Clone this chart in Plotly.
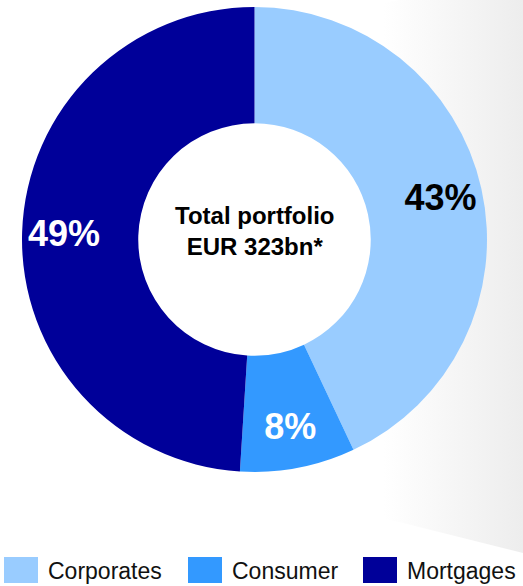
import plotly.graph_objects as go

# ---- data ----
categories = ["Corporates", "Consumer", "Mortgages"]
shares = [43, 8, 49]
colors = ["#99CCFF", "#3399FF", "#000099"]
label_colors = ["#000000", "#ffffff", "#ffffff"]
center_title = "Total portfolio<br>EUR 323bn*"

W, H = 523, 586

def px(x):
    return x / W

def py(y):
    return 1 - y / H

pie_domain = dict(x=[px(22), px(487)], y=[py(472), py(7)])

fig = go.Figure()

# decorative grey gradient panel on the right
fig.add_trace(go.Scatter(
    x=[383, 400, 523, 523, 383, 383],
    y=[3, 0, 0, 553, 518, 3],
    mode="lines", line=dict(width=0), fill="toself",
    fillgradient=dict(type="horizontal",
                      colorscale=[[0, "#ffffff"], [1, "#ededed"]]),
    hoverinfo="skip", showlegend=False,
))

# coloured donut
fig.add_trace(go.Pie(
    labels=categories, values=shares,
    marker=dict(colors=colors, line=dict(width=0)),
    hole=0.5, sort=False, direction="clockwise", rotation=0,
    textinfo="none", domain=pie_domain,
    showlegend=False, hoverinfo="label+percent",
))

# transparent outer ring carrying the labels (puts them on the outer part)
fig.add_trace(go.Pie(
    labels=categories, values=shares,
    marker=dict(colors=["rgba(0,0,0,0)"] * len(shares), line=dict(width=0)),
    hole=0.64, sort=False, direction="clockwise", rotation=0,
    texttemplate="%{value}%", textposition="inside",
    insidetextorientation="horizontal",
    textfont=dict(family="Liberation Sans, Arial", size=36,
                  color=label_colors, weight="bold"),
    domain=pie_domain, showlegend=False, hoverinfo="skip",
))

annotations = [dict(
    text=center_title, x=px(254.5), y=py(231), xref="paper", yref="paper",
    showarrow=False, align="center",
    font=dict(family="Liberation Sans, Arial", size=24, color="#000000",
              weight="bold"),
)]

shapes = []
sq_x = [4, 188, 363]
for cat, col, x0 in zip(categories, colors, sq_x):
    shapes.append(dict(type="rect", xref="paper", yref="paper",
                       x0=px(x0), x1=px(x0 + 34), y0=py(583), y1=py(557),
                       fillcolor=col, line=dict(width=0)))
    annotations.append(dict(
        text=cat, x=px(x0 + 42), y=py(571), xref="paper", yref="paper",
        xanchor="left", yanchor="middle", showarrow=False,
        font=dict(family="Liberation Sans, Arial", size=23, color="#111111"),
    ))

fig.update_layout(
    width=W, height=H, margin=dict(l=0, r=0, t=0, b=0),
    paper_bgcolor="white", plot_bgcolor="rgba(0,0,0,0)",
    xaxis=dict(range=[0, W], visible=False, domain=[0, 1], fixedrange=True),
    yaxis=dict(range=[H, 0], visible=False, domain=[0, 1], fixedrange=True),
    annotations=annotations, shapes=shapes,
)

fig.write_html("out.html", config=dict(displayModeBar=False),
               post_script="document.body.style.margin='0';")
